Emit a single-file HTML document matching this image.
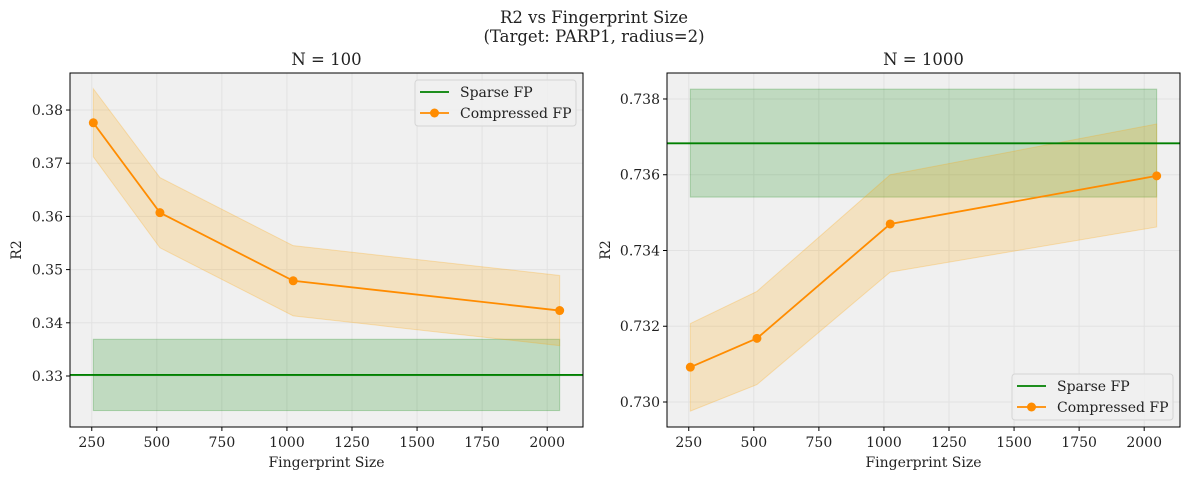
<!DOCTYPE html>
<html><head><meta charset="utf-8">
<style>
body{margin:0;background:#fff;}
svg text{font-family:"DejaVu Serif","Liberation Serif",serif;fill:#222;}
</style></head>
<body>
<svg id="fig" width="1189" height="480" xmlns="http://www.w3.org/2000/svg">
<text x="594" y="23" font-size="16.5" text-anchor="middle">R2 vs Fingerprint Size</text>
<text x="594" y="42" font-size="16.5" text-anchor="middle">(Target: PARP1, radius=2)</text>
</svg>
<script>
const sizes = [256, 512, 1024, 2048];
const xTicks = [250, 500, 750, 1000, 1250, 1500, 1750, 2000];
// N=100
const meanA = [0.3776, 0.3607, 0.3479, 0.3423];
const lowA = [0.3712, 0.3541, 0.3413, 0.3357];
const highA = [0.3840, 0.3673, 0.3545, 0.3489];
const sparseA = [0.3302, 0.3235, 0.3369];
const yTicksA = [0.33, 0.34, 0.35, 0.36, 0.37, 0.38];
// N=1000
const meanB = [0.73092, 0.73168, 0.73470, 0.73597];
const lowB = [0.72976, 0.73046, 0.73343, 0.73462];
const highB = [0.73207, 0.73292, 0.73600, 0.73734];
const sparseB = [0.73683, 0.73541, 0.73826];
const yTicksB = [0.730, 0.732, 0.734, 0.736, 0.738];

const NS="http://www.w3.org/2000/svg";
const svg=document.getElementById('fig');
function mk(tag,attrs,parent){const e=document.createElementNS(NS,tag);for(const k in attrs)e.setAttribute(k,attrs[k]);(parent||svg).appendChild(e);return e;}
const FS=14;
function panel(key,L,R,T,B,ymin,ymax,title,mean,low,high,sparse,yTicks,dec,legendBottom){
  const g=mk('g',{});
  
  
  const xmin=166.4,xmax=2137.6;
  const sx=v=>L+(v-xmin)/(xmax-xmin)*(R-L);
  const sy=v=>B-(v-ymin)/(ymax-ymin)*(B-T);
  const bg=mk('rect',{x:L,y:T,width:R-L,height:B-T,fill:'#f0f0f0'},g);
  
  
  xTicks.forEach(t=>{
    const l=mk('line',{x1:sx(t),x2:sx(t),y1:T,y2:B,stroke:'#e2e2e2','stroke-width':1},g);
    
    
    mk('line',{x1:sx(t),x2:sx(t),y1:B,y2:B+4,stroke:'#000'},g);
    const tx=mk('text',{x:sx(t),y:B+20,'font-size':FS,'text-anchor':'middle'},g);
    tx.textContent=t;
    
    
  });
  yTicks.forEach(t=>{
    const l=mk('line',{x1:L,x2:R,y1:sy(t),y2:sy(t),stroke:'#e2e2e2','stroke-width':1},g);
    
    
    mk('line',{x1:L-4,x2:L,y1:sy(t),y2:sy(t),stroke:'#000'},g);
    const tx=mk('text',{x:L-7,y:sy(t)+5,'font-size':FS,'text-anchor':'end'},g);
    tx.textContent=t.toFixed(dec);
    
    
  });
  const sb=mk('rect',{x:sx(sizes[0]),y:sy(sparse[2]),width:sx(sizes[sizes.length-1])-sx(sizes[0]),height:sy(sparse[1])-sy(sparse[2]),fill:'rgba(0,128,0,0.2)',stroke:'rgba(0,128,0,0.25)'},g);
  
  
  let d='M'+sizes.map((s,i)=>sx(s)+','+sy(high[i])).join(' L')+' L'+sizes.slice().reverse().map((s,j)=>{const i=sizes.length-1-j;return sx(s)+','+sy(low[i]);}).join(' L')+' Z';
  const cb=mk('path',{d:d,fill:'rgba(255,165,0,0.2)',stroke:'rgba(255,165,0,0.25)'},g);
  
  
  const sl=mk('line',{x1:L,x2:R,y1:sy(sparse[0]),y2:sy(sparse[0]),stroke:'#008000','stroke-width':1.8},g);
  
  
  const pl=mk('polyline',{points:sizes.map((s,i)=>sx(s)+','+sy(mean[i])).join(' '),fill:'none',stroke:'#ff8c00','stroke-width':1.8},g);
  
  
  sizes.forEach((s,i)=>{
    const c=mk('circle',{cx:sx(s),cy:sy(mean[i]),r:4.5,fill:'#ff8c00'},g);
    
    
  });
  mk('rect',{x:L,y:T,width:R-L,height:B-T,fill:'none',stroke:'#000','stroke-width':1},g);
  const tt=mk('text',{x:(L+R)/2,y:T-8,'font-size':16.5,'text-anchor':'middle'},g);
  tt.textContent=title;
  
  
  const xl=mk('text',{x:(L+R)/2,y:B+40,'font-size':FS,'text-anchor':'middle'},g);
  xl.textContent='Fingerprint Size';
  
  
  const yl=mk('text',{x:0,y:0,'font-size':FS,'text-anchor':'middle',transform:`translate(${key==='n100'?21:610},${(T+B)/2}) rotate(-90)`},g);
  yl.textContent='R2';
  
  
  const lw=161,lh=46;
  const lx=R-7-lw, ly=legendBottom?B-7-lh:T+7;
  const lg=mk('g',{},g);
  
  
  mk('rect',{x:lx,y:ly,width:lw,height:lh,rx:3,fill:'rgba(240,240,240,0.85)',stroke:'#d5d5d5'},lg);
  mk('line',{x1:lx+5,x2:lx+34,y1:ly+12,y2:ly+12,stroke:'#008000','stroke-width':1.8},lg);
  const t1=mk('text',{x:lx+45,y:ly+17,'font-size':FS},lg);t1.textContent='Sparse FP';
  
  
  mk('line',{x1:lx+5,x2:lx+34,y1:ly+33,y2:ly+33,stroke:'#ff8c00','stroke-width':1.8},lg);
  mk('circle',{cx:lx+19.5,cy:ly+33,r:4.5,fill:'#ff8c00'},lg);
  const t2=mk('text',{x:lx+45,y:ly+38,'font-size':FS},lg);t2.textContent='Compressed FP';
  
  
}
panel('n100',70,583,73,427,0.32041,0.38696,'N = 100',meanA,lowA,highA,sparseA,yTicksA,2,false);
panel('n1000',667,1180,73,427,0.72934,0.738686,'N = 1000',meanB,lowB,highB,sparseB,yTicksB,3,true);
</script>
</body></html>
